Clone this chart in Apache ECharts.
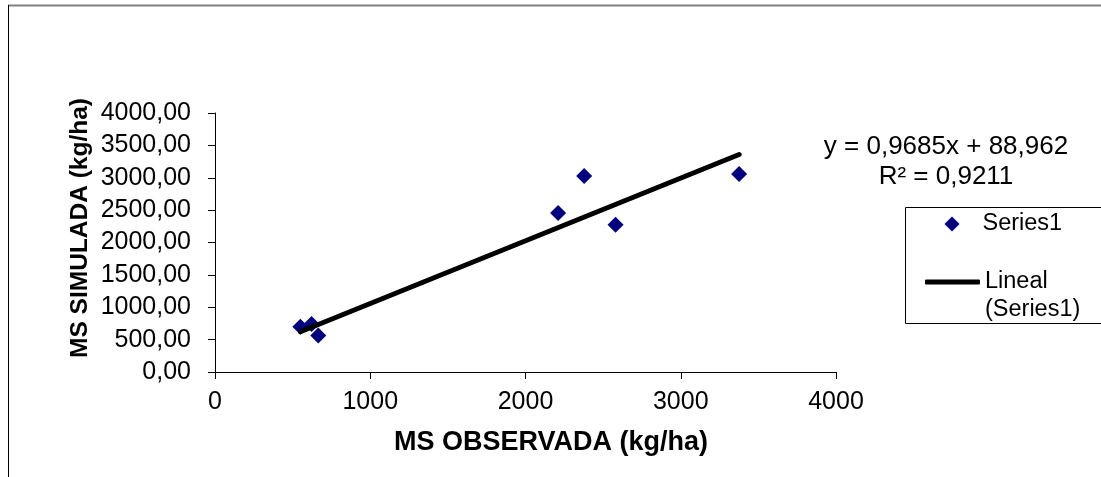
<!DOCTYPE html>
<html><head><meta charset="utf-8">
<script src="https://cdn.jsdelivr.net/npm/echarts@6/dist/echarts.min.js"></script>
<style>html,body{margin:0;padding:0;background:#fff}#c{width:1101px;height:477px}</style>
</head><body><div id="c"></div>
<script>
// Data
const observed  = [550, 622, 665, 2210, 2378, 2580, 3376];   // MS OBSERVADA (kg/ha)
const simulated = [700, 742, 565, 2455, 3028, 2274, 3059];   // MS SIMULADA (kg/ha)
const trendX = [550, 3376];
const trendY = [622, 3359];
const xAxisRange = [0, 4000, 1000];
const yAxisRange = [0, 4000, 500];
const equationText = 'y = 0,9685x + 88,962';
const r2Text = 'R² = 0,9211';
const seriesName = 'Series1';
const trendName = 'Lineal (Series1)';
const xTitle = 'MS OBSERVADA (kg/ha)';
const yTitle = 'MS SIMULADA (kg/ha)';

const FONT = 'Liberation Sans, Arial, Helvetica, sans-serif';
const chart = echarts.init(document.getElementById('c'), null, {renderer: 'canvas'});

const pts = observed.map((x, i) => [x, simulated[i]]);
const trend = trendX.map((x, i) => [x, trendY[i]]);

chart.setOption({
  animation: false,
  backgroundColor: '#fff',
  grid: {left: 215, right: 265, top: 113, bottom: 105, containLabel: false},
  xAxis: {
    type: 'value', min: xAxisRange[0], max: xAxisRange[1], interval: xAxisRange[2],
    splitLine: {show: false},
    axisLine: {show: true, onZero: false, lineStyle: {color: '#000', width: 1}},
    axisTick: {show: true, inside: false, length: 7, lineStyle: {color: '#000'}},
    axisLabel: {color: '#000', fontFamily: FONT, fontSize: 25, margin: 18,
      formatter: v => String(v)}
  },
  yAxis: {
    type: 'value', min: yAxisRange[0], max: yAxisRange[1], interval: yAxisRange[2],
    splitLine: {show: false},
    axisLine: {show: true, onZero: false, lineStyle: {color: '#000', width: 1}},
    axisTick: {show: true, inside: false, length: 7, lineStyle: {color: '#000'}},
    axisLabel: {color: '#000', fontFamily: FONT, fontSize: 25, margin: 24,
      formatter: v => v.toFixed(2).replace('.', ',')}
  },
  legend: [
    {
      orient: 'vertical', left: 944.5, top: 210, padding: 0,
      itemWidth: 15, itemHeight: 15, selectedMode: false,
      data: [{name: seriesName, icon: 'diamond'}],
      textStyle: {color: '#000', fontFamily: FONT, fontSize: 23.5, lineHeight: 28, padding: [0, 0, 0, 18]}
    },
    {
      orient: 'vertical', left: 925, top: 240, padding: 0,
      itemWidth: 55, itemHeight: 5, selectedMode: false,
      data: [{name: trendName, icon: 'roundRect'}],
      formatter: () => '\nLineal\n(Series1)',
      textStyle: {color: '#000', fontFamily: FONT, fontSize: 23.5, lineHeight: 28, padding: [0, 0, 0, 0]}
    }
  ],
  series: [
    {
      name: seriesName, type: 'scatter', data: pts,
      symbol: 'diamond', symbolSize: 16,
      itemStyle: {color: '#000080', opacity: 1}, z: 3
    },
    {
      name: trendName, type: 'line', data: trend,
      symbol: 'none', showSymbol: false,
      lineStyle: {color: '#000', width: 5, cap: 'round'},
      itemStyle: {color: '#000'}, z: 4
    }
  ],
  graphic: [
    // outer frame (partially visible)
    {type: 'line', shape: {x1: 8, y1: 5.5, x2: 1101, y2: 5.5}, style: {stroke: '#808080', lineWidth: 2}, silent: true},
    {type: 'line', shape: {x1: 8.5, y1: 5, x2: 8.5, y2: 477}, style: {stroke: '#000', lineWidth: 1}, silent: true},
    // legend box
    {type: 'rect', shape: {x: 905.5, y: 207.5, width: 220, height: 116}, style: {fill: 'none', stroke: '#000', lineWidth: 1}, silent: true, z: -1},
    // trendline label
    {type: 'text', style: {text: equationText, x: 946, y: 147, align: 'center', verticalAlign: 'middle', font: '26px ' + FONT, fill: '#000'}},
    {type: 'text', style: {text: r2Text, x: 946, y: 177, align: 'center', verticalAlign: 'middle', font: '26px ' + FONT, fill: '#000'}},
    // axis titles
    {type: 'text', style: {text: xTitle, x: 551, y: 443, align: 'center', verticalAlign: 'middle', font: 'bold 27px ' + FONT, fill: '#000'}},
    {type: 'text', rotation: Math.PI / 2, x: 80, y: 228, style: {text: yTitle, x: 0, y: 0, align: 'center', verticalAlign: 'middle', font: 'bold 24.5px ' + FONT, fill: '#000'}}
  ]
});
</script></body></html>
